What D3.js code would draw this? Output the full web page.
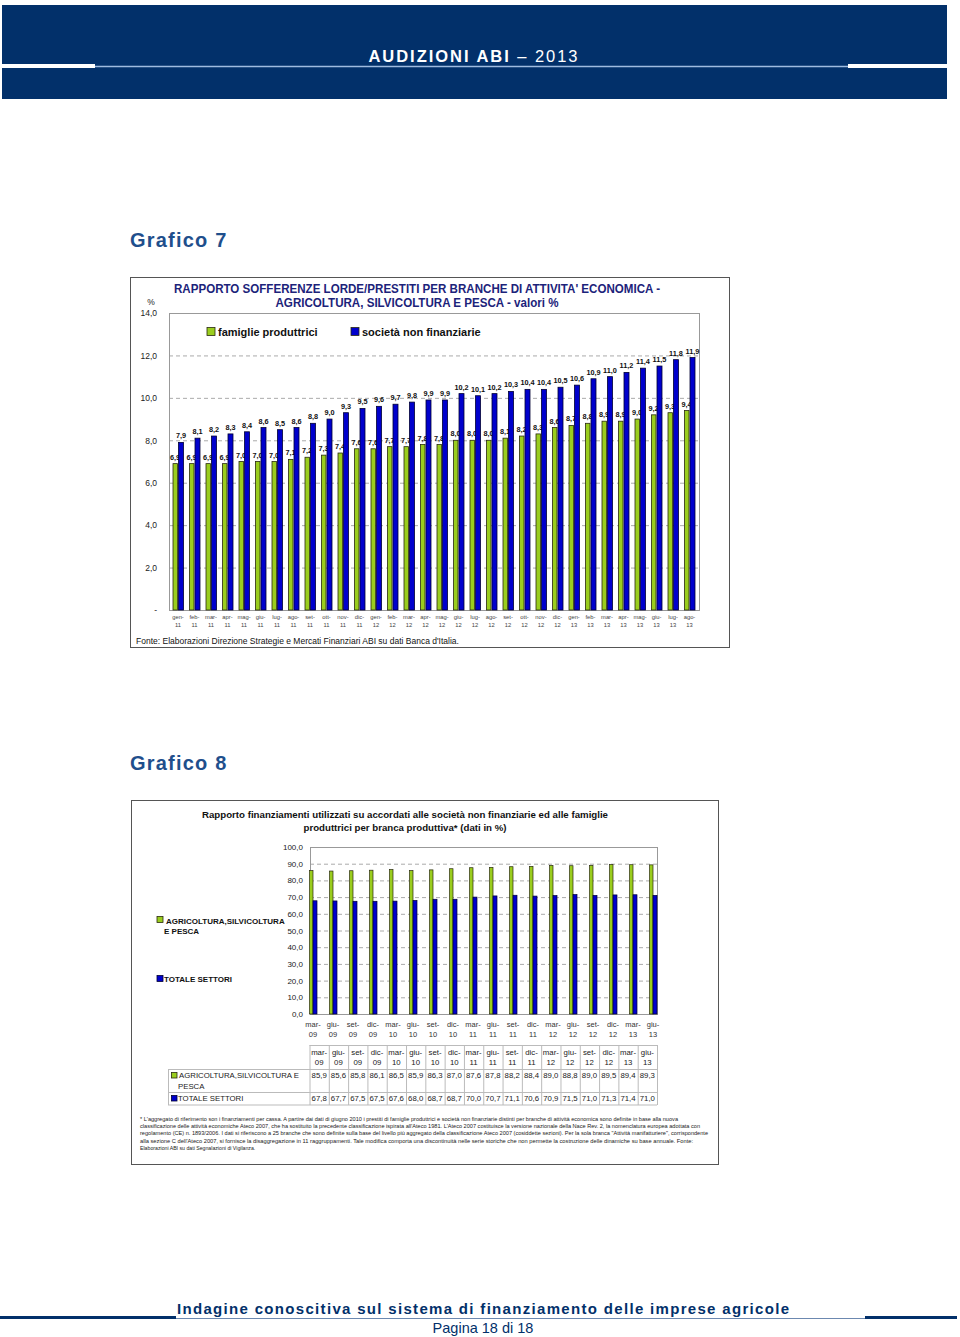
<!DOCTYPE html>
<html><head><meta charset="utf-8">
<script src="https://cdn.jsdelivr.net/npm/d3@7"></script>
<style>body{margin:0;background:#fff}svg{display:block}text{font-family:"Liberation Sans",Arial,sans-serif}</style>
</head><body><svg id="c" width="960" height="1337"></svg>
<script>
// ---------- DATA ----------
const months1 = ["gen-11","feb-11","mar-11","apr-11","mag-11","giu-11","lug-11","ago-11","set-11","ott-11","nov-11","dic-11",
  "gen-12","feb-12","mar-12","apr-12","mag-12","giu-12","lug-12","ago-12","set-12","ott-12","nov-12","dic-12",
  "gen-13","feb-13","mar-13","apr-13","mag-13","giu-13","lug-13","ago-13"];
const famiglie = [6.9,6.9,6.9,6.9,7.0,7.0,7.0,7.1,7.2,7.3,7.4,7.6,7.6,7.7,7.7,7.8,
  7.8,8.0,8.0,8.0,8.1,8.2,8.3,8.6,8.7,8.8,8.9,8.9,9.0,9.2,9.3,9.4];
const societa = [7.9,8.1,8.2,8.3,8.4,8.6,8.5,8.6,8.8,9.0,9.3,9.5,9.6,9.7,9.8,9.9,
  9.9,10.2,10.1,10.2,10.3,10.4,10.4,10.5,10.6,10.9,11.0,11.2,11.4,11.5,11.8,11.9];
const yTicks1 = [0,2,4,6,8,10,12,14];
const series1Names = ["famiglie produttrici","società non finanziarie"];

const quarters2 = ["mar-09","giu-09","set-09","dic-09","mar-10","giu-10","set-10","dic-10","mar-11","giu-11",
  "set-11","dic-11","mar-12","giu-12","set-12","dic-12","mar-13","giu-13"];
const agricoltura = [85.9,85.6,85.8,86.1,86.5,85.9,86.3,87.0,87.6,87.8,88.2,88.4,89.0,88.8,89.0,89.5,89.4,89.3];
const totale = [67.8,67.7,67.5,67.5,67.6,68.0,68.7,68.7,70.0,70.7,71.1,70.6,70.9,71.5,71.0,71.3,71.4,71.0];
const yTicks2 = [0,10,20,30,40,50,60,70,80,90,100];

const footnote = [
 "* L'aggregato di riferimento son i finanziamenti per cassa. A partire dai dati di giugno 2010 i prestiti di famiglie produttrici e società non finanziarie distinti per branche di attività economica sono definite in base alla nuova",
 "classificazione delle attività economiche Ateco 2007, che ha sostituito la precedente classificazione ispirata all'Ateco 1981. L'Ateco 2007 costituisce la versione nazionale della Nace Rev. 2, la nomenclatura europea adottata con",
 "regolamento (CE) n. 1893/2006. I dati si riferiscono a 25 branche che sono definite sulla base del livello più aggregato della classificazione Ateco 2007 (cosiddette sezioni). Per la sola branca \"Attività manifatturiere\", corrispondente",
 "alla sezione C dell'Ateco 2007, si fornisce la disaggregazione in 11 raggruppamenti. Tale modifica comporta una discontinuità nelle serie storiche che non permette la costruzione delle dinamiche su base annuale. Fonte:",
 "Elaborazioni ABI su dati Segnalazioni di Vigilanza."
];

// ---------- STYLE ----------
const GREEN = "#9acd1e", BLUE = "#0000cc", OUT = "#2a2a10", NAVY = "#02306a";
const fmt = v => d3.format(".1f")(v).replace(".", ",");
const svg = d3.select("#c");

// ---------- PAGE HEADER ----------
svg.append("rect").attr("x",2).attr("y",5).attr("width",945).attr("height",94).attr("fill",NAVY);
svg.append("rect").attr("x",2).attr("y",64).attr("width",93).attr("height",4).attr("fill","#fff");
svg.append("rect").attr("x",848).attr("y",64).attr("width",99).attr("height",4).attr("fill","#fff");
svg.append("line").attr("x1",95).attr("x2",848).attr("y1",66.5).attr("y2",66.5).attr("stroke","#9fbbe0").attr("stroke-width",1.5);
const ht = svg.append("text").attr("x",474).attr("y",62).attr("text-anchor","middle").attr("fill","#fff")
  .attr("font-size",16.5).attr("letter-spacing",2).attr("textLength",211).attr("lengthAdjust","spacing");
ht.append("tspan").attr("font-weight","bold").text("AUDIZIONI ABI");
ht.append("tspan").text(" \u2013 2013");

// Section titles
[["Grafico 7",247],["Grafico 8",770]].forEach(([t,y])=>{
  svg.append("text").attr("x",130).attr("y",y).attr("font-size",20).attr("font-weight","bold")
    .attr("fill","#1f4f8c").attr("letter-spacing",1.2).text(t);
});

// ---------- CHART 1 ----------
const g1 = svg.append("g");
g1.append("rect").attr("x",130.5).attr("y",277.5).attr("width",599).attr("height",370).attr("fill","none").attr("stroke","#555").attr("stroke-width",1);
g1.append("text").attr("x",417).attr("y",293).attr("text-anchor","middle").attr("font-size",12).attr("font-weight","bold")
  .attr("fill","#1c237a").attr("textLength",486).attr("lengthAdjust","spacingAndGlyphs")
  .text("RAPPORTO SOFFERENZE LORDE/PRESTITI PER BRANCHE DI ATTIVITA' ECONOMICA -");
g1.append("text").attr("x",417).attr("y",307).attr("text-anchor","middle").attr("font-size",12).attr("font-weight","bold")
  .attr("fill","#1c237a").attr("textLength",283).attr("lengthAdjust","spacingAndGlyphs")
  .text("AGRICOLTURA, SILVICOLTURA E PESCA - valori %");

const P1 = {l:169, r:699, t:313, b:610};
const x1 = d3.scaleBand().domain(months1).range([169.75, 697.75]);
const y1 = d3.scaleLinear().domain([0,14]).range([P1.b, P1.t]);

// gridlines
g1.append("g").attr("transform",`translate(${P1.l},0)`)
  .call(d3.axisLeft(y1).tickValues(yTicks1.filter(v=>v>0&&v<14)).tickSize(-(P1.r-P1.l)).tickFormat(""))
  .call(g=>g.select(".domain").remove())
  .call(g=>g.selectAll("line").attr("stroke","#aaa").attr("stroke-dasharray","4,3"));
// plot frame
g1.append("rect").attr("x",P1.l+0.5).attr("y",P1.t+0.5).attr("width",P1.r-P1.l).attr("height",P1.b-P1.t)
  .attr("fill","none").attr("stroke","#999");
// y axis labels
g1.append("g").attr("transform",`translate(${P1.l-9},0)`)
  .call(d3.axisLeft(y1).tickValues(yTicks1).tickSize(0).tickFormat(v=>v===0?"-":fmt(v)))
  .call(g=>g.select(".domain").remove())
  .call(g=>g.selectAll("text").attr("font-size",8.5).attr("fill","#222").attr("font-family","Liberation Sans, Arial, sans-serif"));
g1.append("text").attr("x",151).attr("y",305).attr("text-anchor","middle").attr("font-size",8.5).attr("fill","#222").text("%");
// x axis labels
const xa1 = g1.append("g").attr("transform",`translate(0,${P1.b})`)
  .call(d3.axisBottom(x1).tickSize(0).tickFormat(""));
xa1.select(".domain").attr("stroke","#999");
xa1.selectAll(".tick").each(function(d){
  const t = d3.select(this).append("text").attr("fill","#444").attr("font-size",5.8).attr("text-anchor","middle")
    .attr("font-family","Liberation Sans, Arial, sans-serif");
  const [m,yy] = d.split("-");
  t.append("tspan").attr("x",0).attr("y",9).text(m+"-");
  t.append("tspan").attr("x",0).attr("y",17).text(yy);
});
// bars
const bw1 = 4.5;
const gb = g1.append("g");
gb.selectAll("rect.f").data(famiglie).join("rect").attr("class","f")
  .attr("x",(d,i)=>x1(months1[i])+x1.bandwidth()/2-bw1-0.5).attr("width",bw1)
  .attr("y",d=>y1(d)).attr("height",d=>y1(0)-y1(d)).attr("fill",GREEN).attr("stroke",OUT).attr("stroke-width",0.8);
gb.selectAll("text.f").data(famiglie).join("text").attr("class","f")
  .attr("x",(d,i)=>x1(months1[i])+x1.bandwidth()/2-3).attr("y",d=>y1(d)-4)
  .attr("text-anchor","middle").attr("font-size",7.3).attr("font-weight","bold").attr("fill","#111").text(fmt);
gb.selectAll("rect.s").data(societa).join("rect").attr("class","s")
  .attr("x",(d,i)=>x1(months1[i])+x1.bandwidth()/2+0.5).attr("width",bw1+0.5)
  .attr("y",d=>y1(d)).attr("height",d=>y1(0)-y1(d)).attr("fill",BLUE).attr("stroke","#000033").attr("stroke-width",0.8);
gb.selectAll("text.s").data(societa).join("text").attr("class","s")
  .attr("x",(d,i)=>x1(months1[i])+x1.bandwidth()/2+3).attr("y",d=>y1(d)-4)
  .attr("text-anchor","middle").attr("font-size",7.3).attr("font-weight","bold").attr("fill","#111").text(fmt);
// legend
[[207,GREEN,series1Names[0]],[351,BLUE,series1Names[1]]].forEach(([lx,c,t])=>{
  g1.append("rect").attr("x",lx).attr("y",327.5).attr("width",8).attr("height",8).attr("fill",c).attr("stroke",OUT).attr("stroke-width",0.8);
  g1.append("text").attr("x",lx+11).attr("y",336).attr("font-size",11).attr("font-weight","bold").attr("fill","#111").text(t);
});
g1.append("text").attr("x",136).attr("y",644).attr("font-size",8.5).attr("fill","#111")
  .text("Fonte: Elaborazioni Direzione Strategie e Mercati Finanziari ABI su dati Banca d'Italia.");

// ---------- CHART 2 ----------
const g2 = svg.append("g");
g2.append("rect").attr("x",131.5).attr("y",800.5).attr("width",587).attr("height",364).attr("fill","none").attr("stroke","#555");
g2.append("text").attr("x",405).attr("y",818).attr("text-anchor","middle").attr("font-size",9.5).attr("font-weight","bold").attr("fill","#111")
  .attr("textLength",406).attr("lengthAdjust","spacingAndGlyphs")
  .text("Rapporto finanziamenti utilizzati su accordati alle società non finanziarie ed alle famiglie");
g2.append("text").attr("x",405).attr("y",831).attr("text-anchor","middle").attr("font-size",9.5).attr("font-weight","bold").attr("fill","#111")
  .attr("textLength",203).attr("lengthAdjust","spacingAndGlyphs")
  .text("produttrici per branca produttiva* (dati in %)");

const P2 = {l:310, r:657, t:847, b:1014};
const x2 = d3.scaleBand().domain(quarters2).range([303, 663]);
const y2 = d3.scaleLinear().domain([0,100]).range([P2.b, P2.t]);
g2.append("g").attr("transform",`translate(${P2.l},0)`)
  .call(d3.axisLeft(y2).tickValues(yTicks2.filter(v=>v>0&&v<100)).tickSize(-(P2.r-P2.l)).tickFormat(""))
  .call(g=>g.select(".domain").remove())
  .call(g=>g.selectAll("line").attr("stroke","#aaa").attr("stroke-dasharray","4,3"));
g2.append("rect").attr("x",P2.l+0.5).attr("y",P2.t+0.5).attr("width",P2.r-P2.l).attr("height",P2.b-P2.t)
  .attr("fill","none").attr("stroke","#999");
g2.append("g").attr("transform",`translate(${P2.l-4},0)`)
  .call(d3.axisLeft(y2).tickValues(yTicks2).tickSize(0).tickFormat(fmt))
  .call(g=>g.select(".domain").remove())
  .call(g=>g.selectAll("text").attr("font-size",8).attr("fill","#222").attr("font-family","Liberation Sans, Arial, sans-serif"));
const xa2 = g2.append("g").attr("transform",`translate(0,${P2.b})`).call(d3.axisBottom(x2).tickSize(0).tickFormat(""));
xa2.select(".domain").remove();
xa2.selectAll(".tick").each(function(d){
  const t = d3.select(this).append("text").attr("fill","#333").attr("font-size",7.5).attr("text-anchor","middle")
    .attr("font-family","Liberation Sans, Arial, sans-serif");
  const [m,yy] = d.split("-");
  t.append("tspan").attr("x",0).attr("y",13).text(m+"-");
  t.append("tspan").attr("x",0).attr("y",23).text(yy);
});
g2.selectAll("rect.a").data(agricoltura).join("rect").attr("class","a")
  .attr("x",(d,i)=>x2(quarters2[i])+x2.bandwidth()/2-3.5).attr("width",3.5)
  .attr("y",d=>y2(d)).attr("height",d=>y2(0)-y2(d)).attr("fill",GREEN).attr("stroke",OUT).attr("stroke-width",0.7);
g2.selectAll("rect.t").data(totale).join("rect").attr("class","t")
  .attr("x",(d,i)=>x2(quarters2[i])+x2.bandwidth()/2).attr("width",4)
  .attr("y",d=>y2(d)).attr("height",d=>y2(0)-y2(d)).attr("fill",BLUE).attr("stroke","#000033").attr("stroke-width",0.7);
// legend
g2.append("rect").attr("x",157).attr("y",916.5).attr("width",6).attr("height",6).attr("fill",GREEN).attr("stroke",OUT).attr("stroke-width",0.8);
g2.append("text").attr("x",166).attr("y",923.5).attr("font-size",8).attr("font-weight","bold").attr("fill","#111").text("AGRICOLTURA,SILVICOLTURA");
g2.append("text").attr("x",164).attr("y",933.5).attr("font-size",8).attr("font-weight","bold").attr("fill","#111").text("E PESCA");
g2.append("rect").attr("x",157).attr("y",975.5).attr("width",6).attr("height",6).attr("fill",BLUE).attr("stroke","#000033").attr("stroke-width",0.8);
g2.append("text").attr("x",164).attr("y",982).attr("font-size",8).attr("font-weight","bold").attr("fill","#111").text("TOTALE SETTORI");

// table
const tx0 = 168, tc0 = 309.5, tc1 = 657;
const tcol = d3.scaleBand().domain(quarters2).range([tc0, tc1]);
const rows = [1045,1069,1092,1104.5];
const tg = g2.append("g");
rows.forEach(y=>tg.append("line").attr("x1",y===1045?tc0:tx0).attr("x2",tc1).attr("y1",y+0.5).attr("y2",y+0.5).attr("stroke","#bbb"));
tg.append("line").attr("x1",tx0+0.5).attr("x2",tx0+0.5).attr("y1",1069).attr("y2",1105).attr("stroke","#bbb");
quarters2.concat([null]).forEach((q,i)=>{
  const xx = q? tcol(q) : tc1;
  tg.append("line").attr("x1",xx+0.5).attr("x2",xx+0.5).attr("y1",1045).attr("y2",1105).attr("stroke","#bbb");
});
quarters2.forEach((q,i)=>{
  const cx = tcol(q)+tcol.bandwidth()/2;
  const [m,yy] = q.split("-");
  tg.append("text").attr("x",cx).attr("y",1055).attr("text-anchor","middle").attr("font-size",7.8).attr("fill","#222").text(m+"-");
  tg.append("text").attr("x",cx).attr("y",1065).attr("text-anchor","middle").attr("font-size",7.8).attr("fill","#222").text(yy);
  tg.append("text").attr("x",cx).attr("y",1078).attr("text-anchor","middle").attr("font-size",7.8).attr("fill","#222").text(fmt(agricoltura[i]));
  tg.append("text").attr("x",cx).attr("y",1101).attr("text-anchor","middle").attr("font-size",7.8).attr("fill","#222").text(fmt(totale[i]));
});
tg.append("rect").attr("x",171.5).attr("y",1072.5).attr("width",5.5).attr("height",5.5).attr("fill",GREEN).attr("stroke",OUT).attr("stroke-width",0.8);
tg.append("text").attr("x",179).attr("y",1078).attr("font-size",7.8).attr("fill","#222").text("AGRICOLTURA,SILVICOLTURA E");
tg.append("text").attr("x",178).attr("y",1089).attr("font-size",7.8).attr("fill","#222").text("PESCA");
tg.append("rect").attr("x",171.5).attr("y",1095.5).attr("width",5.5).attr("height",5.5).attr("fill",BLUE).attr("stroke","#000033").attr("stroke-width",0.8);
tg.append("text").attr("x",178).attr("y",1101).attr("font-size",7.8).attr("fill","#222").text("TOTALE SETTORI");

// footnote
const fnLen = [538,560,568,553,null];
footnote.forEach((t,i)=>{
  const tt = g2.append("text").attr("x",140).attr("y",1121+i*7.2).attr("font-size",5.2).attr("fill","#222").text(t);
  if(fnLen[i]) tt.attr("textLength",fnLen[i]).attr("lengthAdjust","spacingAndGlyphs");
});

// ---------- PAGE FOOTER ----------
svg.append("text").attr("x",483).attr("y",1314).attr("text-anchor","middle").attr("font-size",15).attr("font-weight","bold")
  .attr("fill",NAVY).attr("textLength",612).attr("lengthAdjust","spacing")
  .text("Indagine conoscitiva sul sistema di finanziamento delle imprese agricole");
svg.append("rect").attr("x",0).attr("y",1316).attr("width",176).attr("height",3).attr("fill",NAVY);
svg.append("rect").attr("x",865).attr("y",1316).attr("width",92).attr("height",3).attr("fill",NAVY);
svg.append("line").attr("x1",176).attr("x2",865).attr("y1",1318.5).attr("y2",1318.5).attr("stroke","#6c88b0").attr("stroke-width",1);
svg.append("text").attr("x",483).attr("y",1333).attr("text-anchor","middle").attr("font-size",14.5)
  .attr("fill",NAVY).text("Pagina 18 di 18");
</script></body></html>
